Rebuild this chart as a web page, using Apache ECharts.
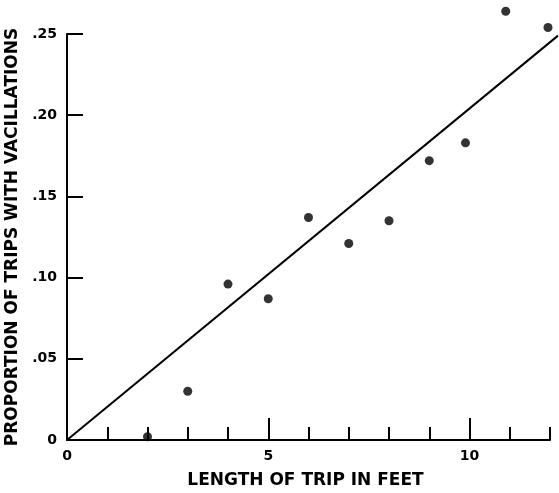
<!DOCTYPE html>
<html>
<head>
<meta charset="utf-8">
<script src="https://cdn.jsdelivr.net/npm/echarts@6/dist/echarts.min.js"></script>
<style>
  html, body { margin: 0; padding: 0; background: #fff; }
  #chart { width: 559px; height: 493px; }
</style>
</head>
<body>
<div id="chart"></div>
<script>
// Trip length (feet) and the share of trips that contained vacillations
const tripLength = [2, 3, 4, 5, 6, 7, 8, 9, 9.9, 10.9, 11.95];
const vacillationShare = [0.002, 0.030, 0.096, 0.087, 0.137, 0.121, 0.135, 0.172, 0.183, 0.264, 0.254];

// Fitted straight line through the origin (end points)
const fitX = [0, 12.2];
const fitY = [0, 0.249];

// Axis tick labels
const yTickValues = [0, 0.05, 0.10, 0.15, 0.20, 0.25];
const yTickLabels = ['0', '.05', '.10', '.15', '.20', '.25'];
const xMajorValues = [0, 5, 10];
const xTickLabels = ['0', '5', '10'];

const ink = '#000';
const font = '"DejaVu Sans", sans-serif';

const chart = echarts.init(document.getElementById('chart'), null, { renderer: 'canvas' });

function yLabel(v) {
  for (let i = 0; i < yTickValues.length; i++) {
    if (Math.abs(yTickValues[i] - v) < 1e-6) return yTickLabels[i];
  }
  return '';
}

// The axis frame stops at 12 ft; the fitted line runs a little past it,
// so it lives on a second, invisible grid with the same scale per foot.
const pxLeft = 67, pxTop = 34, pxBottom = 53;

chart.setOption({
  animation: false,
  backgroundColor: '#fff',
  grid: [
    { left: pxLeft, right: 9, top: pxTop, bottom: pxBottom, containLabel: false, outerBoundsMode: 'none' },
    { left: pxLeft, right: 1, top: pxTop, bottom: pxBottom, containLabel: false, outerBoundsMode: 'none' }
  ],
  xAxis: [
    {
      // foot-by-foot ticks
      gridIndex: 0,
      type: 'value', min: 0, max: 12, interval: 1,
      axisLine: { show: true, lineStyle: { color: ink, width: 2 } },
      axisTick: { show: true, inside: true, length: 13, lineStyle: { color: ink, width: 2 } },
      axisLabel: { show: false },
      splitLine: { show: false },
      name: 'LENGTH OF TRIP IN FEET',
      nameLocation: 'middle',
      nameGap: 32,
      nameTextStyle: {
        color: ink, fontFamily: font, fontWeight: 'bold', fontSize: 17,
        padding: [0, 6, 0, 0]
      }
    },
    {
      // longer ticks with labels every 5 feet
      gridIndex: 0,
      type: 'value', min: 0, max: 12, interval: 5, position: 'bottom',
      axisLine: { show: false },
      axisTick: {
        show: true, inside: true, length: 22, customValues: xMajorValues,
        lineStyle: { color: ink, width: 2 }
      },
      axisLabel: {
        show: true, margin: 9, color: ink, fontFamily: font, fontWeight: 'bold', fontSize: 14,
        customValues: xMajorValues,
        formatter: function (v) {
          const i = xMajorValues.indexOf(v);
          return i >= 0 ? xTickLabels[i] : '';
        }
      },
      splitLine: { show: false }
    },
    {
      // hidden axis for the fitted line
      gridIndex: 1,
      type: 'value', min: 0, max: 12.2, show: false
    }
  ],
  yAxis: [
    {
      gridIndex: 0,
      type: 'value', min: 0, max: 0.25, interval: 0.05,
      axisLine: { show: true, lineStyle: { color: ink, width: 2 } },
      axisTick: { show: true, inside: true, length: 16, lineStyle: { color: ink, width: 2 } },
      axisLabel: {
        color: ink, fontFamily: font, fontWeight: 'bold', fontSize: 14, margin: 10,
        formatter: yLabel
      },
      splitLine: { show: false },
      name: 'PROPORTION OF TRIPS WITH VACILLATIONS',
      nameLocation: 'middle',
      nameGap: 37,
      nameRotate: 90,
      nameTextStyle: { color: ink, fontFamily: font, fontWeight: 'bold', fontSize: 17 }
    },
    {
      gridIndex: 1,
      type: 'value', min: 0, max: 0.25, show: false
    }
  ],
  series: [
    {
      type: 'line',
      xAxisIndex: 2,
      yAxisIndex: 1,
      data: fitX.map((x, i) => [x, fitY[i]]),
      showSymbol: false,
      symbol: 'none',
      lineStyle: { color: ink, width: 2 },
      clip: false,
      silent: true
    },
    {
      type: 'scatter',
      xAxisIndex: 0,
      yAxisIndex: 0,
      data: tripLength.map((x, i) => [x, vacillationShare[i]]),
      symbol: 'circle',
      symbolSize: 9,
      itemStyle: { color: ink },
      clip: false
    }
  ]
});
</script>
</body>
</html>
